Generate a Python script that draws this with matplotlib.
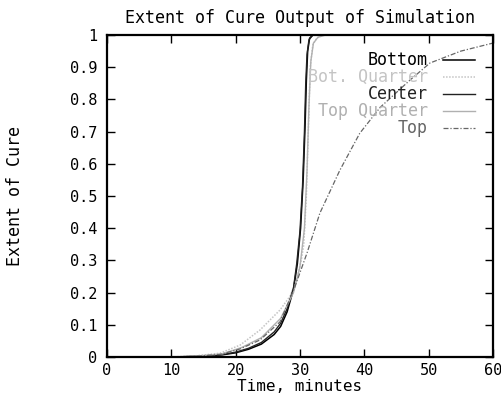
import matplotlib
matplotlib.use("Agg")
import matplotlib.pyplot as plt

# --- data ---
t_bottom = [0, 10, 15, 18, 20, 22, 24, 26, 27, 28, 29, 29.6, 30.1, 30.5, 30.8, 31.0, 31.2, 31.5, 32, 40, 60]
y_bottom = [0, 0, 0.002, 0.007, 0.013, 0.024, 0.04, 0.07, 0.095, 0.14, 0.21, 0.29, 0.4, 0.55, 0.72, 0.86, 0.95, 0.99, 1, 1, 1]

t_botq = [0, 10, 14, 17.6, 20.7, 23.8, 26.9, 28.5, 29.5, 30.2, 30.6, 31.0, 31.3, 31.6, 32.0, 32.6, 33.5, 35, 60]
y_botq = [0, 0, 0.004, 0.012, 0.037, 0.084, 0.146, 0.19, 0.24, 0.3, 0.35, 0.5, 0.7, 0.9, 0.97, 0.99, 1, 1, 1]

t_center = [0, 10, 15, 18, 20, 22, 24, 26, 27, 28, 29, 29.5, 30, 30.4, 30.7, 30.9, 31.1, 31.4, 32, 40, 60]
y_center = [0, 0, 0.003, 0.008, 0.015, 0.027, 0.045, 0.078, 0.105, 0.15, 0.215, 0.29, 0.39, 0.53, 0.7, 0.85, 0.94, 0.985, 1, 1, 1]

t_topq = [0, 10, 14, 18, 21, 24, 27, 29, 30, 30.7, 31.1, 31.4, 31.7, 32.1, 32.8, 34, 60]
y_topq = [0, 0, 0.003, 0.01, 0.03, 0.06, 0.12, 0.2, 0.28, 0.4, 0.58, 0.78, 0.92, 0.975, 0.993, 1, 1]

t_top = [0, 10, 14, 17.6, 20.7, 23.8, 26.9, 29.2, 31.1, 33.1, 36.2, 39.3, 42.5, 47.1, 50.2, 55, 60]
y_top = [0, 0, 0.002, 0.008, 0.025, 0.053, 0.109, 0.217, 0.323, 0.447, 0.58, 0.695, 0.776, 0.86, 0.913, 0.95, 0.975]

labels = ['Bottom', 'Bot. Quarter', 'Center', 'Top Quarter', 'Top']
x_ticks = [0, 10, 20, 30, 40, 50, 60]
y_ticks = [0, 0.1, 0.2, 0.3, 0.4, 0.5, 0.6, 0.7, 0.8, 0.9, 1]
y_ticklabels = ['0', '0.1', '0.2', '0.3', '0.4', '0.5', '0.6', '0.7', '0.8', '0.9', '1']

plt.rcParams['font.family'] = ['DejaVu Sans Mono']
plt.rcParams['font.size'] = 11

fig = plt.figure(figsize=(5.02, 3.98), dpi=100)
ax = fig.add_axes([0.213, 0.103, 0.769, 0.809])

styles = [
    dict(color='black', lw=1.1, ls='-'),
    dict(color='#c4c4c4', lw=1.1, ls=(0, (1, 1))),
    dict(color='#222222', lw=1.0, ls='-'),
    dict(color='#b0b0b0', lw=1.0, ls='-'),
    dict(color='#666666', lw=0.9, ls=(0, (4, 1.5, 1, 1.5))),
]
series = [(t_bottom, y_bottom), (t_botq, y_botq), (t_center, y_center),
          (t_topq, y_topq), (t_top, y_top)]

for (t, y), st, lab in zip(series, styles, labels):
    ax.plot(t, y, label=lab, **st)

# gnuplot-style key: text right aligned, sample line to the right
for i, (lab, st) in enumerate(zip(labels, styles)):
    yy = 0.922 - i * 0.053
    ax.text(0.832, yy, lab, transform=ax.transAxes, ha='right', va='center',
            color=st['color'], fontsize=12)
    ax.plot([0.870, 0.953], [yy, yy], transform=ax.transAxes, **st)

ax.set_xlim(0, 60)
ax.set_ylim(0, 1)
ax.set_xticks(x_ticks)
ax.set_yticks(y_ticks)
ax.set_yticklabels(y_ticklabels)
ax.tick_params(direction='in', length=6, width=1, top=True, right=True)
ax.tick_params(axis='y', pad=7)
ax.tick_params(axis='x', pad=4)
for s in ax.spines.values():
    s.set_linewidth(1.6)

ax.set_title('Extent of Cure Output of Simulation', fontsize=12, pad=9)
ax.set_xlabel('Time, minutes', fontsize=11.5, labelpad=1)
ax.set_ylabel('Extent of Cure', fontsize=12)
ax.yaxis.set_label_coords(-0.215, 0.5)

fig.savefig('out.png', dpi=100)
